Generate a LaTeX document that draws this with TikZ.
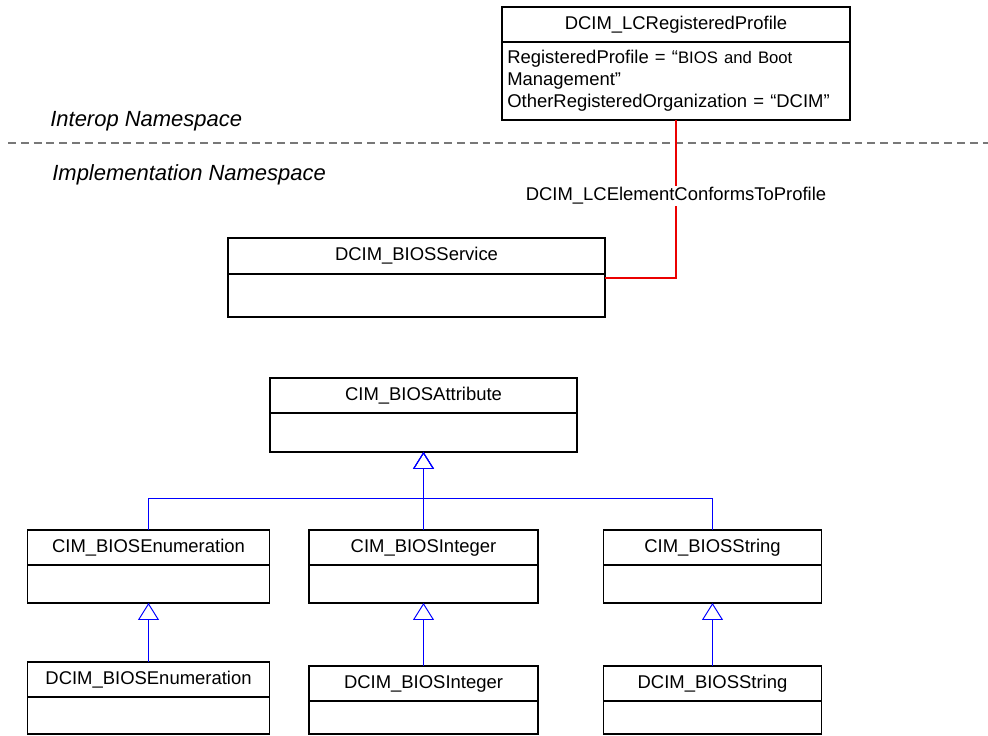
\documentclass[tikz,border=0pt]{standalone}
\usepackage{fontspec}
\setmainfont{Liberation Sans}
\usetikzlibrary{arrows.meta,positioning}
\definecolor{umlBlue}{RGB}{0,0,255}
\definecolor{linkRed}{RGB}{235,0,0}
\definecolor{nsGray}{RGB}{120,120,120}
\tikzset{
  classhead/.style={draw=black, line width=1pt, fill=white, outer sep=0pt, inner sep=2pt, minimum height=0.7cm, minimum width=#1, font=\fontsize{10.5}{12.5}\selectfont},
  classbody/.style={draw=black, line width=1pt, fill=white, outer sep=0pt, inner sep=0pt, minimum width=#1},
  inherit/.style={-{Triangle[open, length=0.34cm, width=0.42cm]}, draw=umlBlue, line width=0.55pt},
  conform/.style={draw=linkRed, line width=1.1pt},
  nslabel/.style={anchor=west, inner sep=0pt, font=\fontsize{12.5}{15}\selectfont\itshape},
  divider/.style={draw=nsGray, line width=0.6pt, dash pattern=on 4.5pt off 2.8pt}
}

\begin{document}
\begin{tikzpicture}[x=0.02cm, y=-0.02cm]
  \useasboundingbox (0,0) rectangle (988,736);
  % namespaces
  \node[nslabel] (interop) at (50,121) {Interop Namespace};
  \node[nslabel] (impl) at (52,175) {Implementation Namespace};
  \draw[divider] (8,143) -- (988,143);

  % registered profile
  \node[classhead=6.96cm] (profH) at (676,24.5) {DCIM\_LCRegisteredProfile};
  \node[classbody=6.96cm, minimum height=1.56cm, below=0pt of profH, inner xsep=3pt, text width=6.96cm-6pt, align=left, font=\fontsize{10.5}{12.5}\selectfont] (profB)
    {RegisteredProfile = “{\fontsize{9.5}{12.5}\selectfont BIOS and Boot}\\Management”\\OtherRegisteredOrganization = “DCIM”};

  % service
  \node[classhead=7.54cm, minimum height=0.72cm] (svcH) at (416.5,256) {DCIM\_BIOSService};
  \node[classbody=7.54cm, minimum height=0.86cm, below=0pt of svcH] (svcB) {};

  \draw[conform] (profB.south) |- node[pos=0.24, fill=white, inner sep=1pt, font=\fontsize{10.5}{12.5}\selectfont] (confLbl) {DCIM\_LCElementConformsToProfile} ([yshift=-0.08cm]svcB.north east);

  % attributes
  \node[classhead=6.14cm] (attrH) at (423.5,395.5) {CIM\_BIOSAttribute};
  \node[classbody=6.14cm, minimum height=0.78cm, below=0pt of attrH] (attrB) {};

  \node[classhead=4.84cm] (enumH) at (148.5,547.5) {CIM\_BIOSEnumeration};
  \node[classbody=4.84cm, minimum height=0.76cm, below=0pt of enumH] (enumB) {};
  \node[classhead=4.58cm] (intH) at (423.5,547.5) {CIM\_BIOSInteger};
  \node[classbody=4.58cm, minimum height=0.76cm, below=0pt of intH] (intB) {};
  \node[classhead=4.36cm] (strH) at (712.5,547.5) {CIM\_BIOSString};
  \node[classbody=4.36cm, minimum height=0.76cm, below=0pt of strH] (strB) {};

  \node[classhead=4.84cm] (denumH) at (148.5,679.5) {DCIM\_BIOSEnumeration};
  \node[classbody=4.84cm, minimum height=0.74cm, below=0pt of denumH] (denumB) {};
  \node[classhead=4.58cm] (dintH) at (423.5,683.5) {DCIM\_BIOSInteger};
  \node[classbody=4.58cm, minimum height=0.66cm, below=0pt of dintH] (dintB) {};
  \node[classhead=4.36cm] (dstrH) at (712.5,683.5) {DCIM\_BIOSString};
  \node[classbody=4.36cm, minimum height=0.66cm, below=0pt of dstrH] (dstrB) {};

  % inheritance
  \coordinate (junc) at (423.5,498.5);
  \draw[inherit] (enumH.north) |- (junc) -- (attrB.south);
  \draw[inherit] (strH.north) |- (junc) -- (attrB.south);
  \draw[inherit] (intH.north) -- (attrB.south);
  \draw[inherit] (denumH.north) -- (enumB.south);
  \draw[inherit] (dintH.north) -- (intB.south);
  \draw[inherit] (dstrH.north) -- (strB.south);
\end{tikzpicture}
\end{document}
